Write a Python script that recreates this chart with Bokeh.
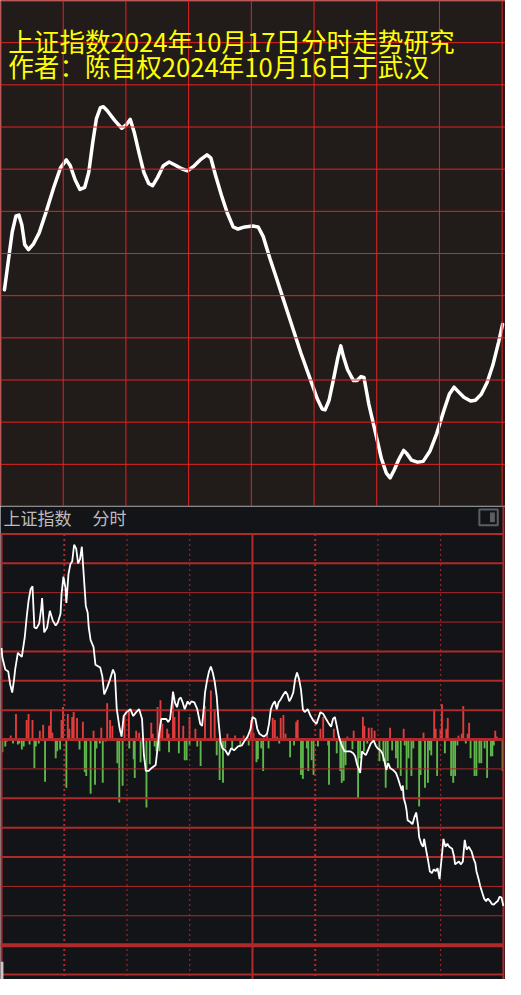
from bokeh.plotting import figure
from bokeh.models import Range1d, Span, Label, BoxAnnotation
from bokeh.layouts import column
from bokeh.embed import file_html
from bokeh.resources import INLINE

FONT = "Noto Sans CJK SC"

# ---------------- texts ----------------
title_lines = ["上证指数2024年10月17日分时走势研究", "作者：陈自权2024年10月16日于武汉"]
header_labels = ["上证指数", "分时"]

# ---------------- top panel: forecast curve (minutes after open, index level) ----------------
forecast_t = [1.9, 3.7, 5.6, 7.4, 8.8, 10.2, 11.6, 13.4, 15.8, 18.5,
              21.8, 25.5, 28.7, 31.5, 33.4, 35.7, 38.0, 40.3, 42.2, 44.1,
              45.9, 47.8, 49.2, 51.0, 54.7, 58.0, 60.3, 62.1, 64.0, 66.3,
              68.6, 70.9, 72.8, 75.1, 77.9, 80.7, 83.5, 86.7, 89.5, 92.7,
              96.0, 98.8, 100.6, 102.9, 105.7, 108.5, 111.3, 113.6, 116.9, 120.6,
              123.3, 125.7, 128.9, 132.2, 135.4, 139.1, 143.7, 148.4, 151.6, 153.9,
              155.3, 157.2, 159.5, 161.4, 162.8, 164.1, 166.0, 168.8, 170.6, 172.5,
              173.9, 176.2, 179.5, 182.2, 184.6, 186.4, 188.3, 190.6, 192.9, 194.3,
              196.6, 199.4, 202.2, 205.4, 208.7, 211.9, 214.7, 217.0, 218.9, 221.7,
              224.9, 227.2, 230.0, 232.8, 235.6, 238.3, 240.2]
forecast_v = [3201.4, 3208.1, 3215.1, 3218.9, 3219.1, 3216.8, 3212.1, 3210.9, 3212.3, 3214.9,
              3219.8, 3225.7, 3230.3, 3232.2, 3230.8, 3227.5, 3225.2, 3225.7, 3229.2, 3236.2,
              3242.0, 3244.6, 3244.8, 3243.9, 3241.5, 3239.7, 3240.6, 3241.8, 3238.7, 3233.8,
              3229.2, 3226.6, 3226.1, 3228.0, 3230.8, 3231.7, 3231.0, 3230.1, 3229.6, 3230.8,
              3232.4, 3233.4, 3232.7, 3228.5, 3223.8, 3219.6, 3216.3, 3215.8, 3216.3, 3216.5,
              3216.3, 3214.0, 3208.8, 3203.9, 3199.0, 3193.4, 3186.4, 3179.9, 3175.5, 3173.1,
              3172.9, 3175.2, 3180.6, 3185.3, 3188.1, 3185.5, 3182.5, 3179.9, 3179.9, 3180.8,
              3180.6, 3174.3, 3167.3, 3161.4, 3157.9, 3156.8, 3158.6, 3161.2, 3163.3, 3162.6,
              3161.0, 3160.5, 3160.7, 3163.1, 3167.3, 3172.4, 3176.6, 3178.3, 3177.3, 3175.9,
              3175.0, 3175.2, 3176.6, 3179.4, 3183.6, 3189.0, 3193.2]

# ---------------- bottom panel: actual intraday price ----------------
prev_close = 3203.0
actual_t = [0.0, 0.4, 1.8, 3.2, 4.1, 5.1, 6.0, 6.5, 7.8, 9.7,
            11.1, 12.0, 12.9, 13.9, 14.8, 15.7, 16.7, 18.0, 19.0, 19.4,
            20.4, 21.8, 23.1, 24.5, 25.9, 26.9, 28.2, 28.7, 29.6, 30.6,
            31.0, 32.0, 32.9, 33.8, 34.7, 35.7, 36.6, 37.5, 38.4, 39.4,
            40.3, 41.2, 41.7, 42.6, 44.0, 44.9, 47.2, 48.2, 49.1, 50.5,
            51.9, 53.3, 54.2, 55.1, 56.5, 57.4, 58.4, 59.8, 61.6, 63.0,
            64.4, 65.8, 67.2, 68.1, 69.0, 70.4, 71.8, 73.7, 74.6, 75.5,
            76.4, 78.8, 79.7, 80.6, 81.5, 82.0, 82.9, 83.9, 84.8, 85.7,
            86.6, 87.6, 89.0, 89.9, 90.8, 92.2, 93.6, 95.0, 95.9, 96.8,
            97.3, 98.2, 99.2, 100.1, 101.0, 101.9, 102.9, 103.8, 104.7, 105.6,
            107.0, 108.4, 109.8, 111.2, 113.1, 114.9, 116.3, 117.7, 119.1, 120.0,
            121.4, 122.3, 123.3, 124.6, 125.6, 127.0, 127.9, 128.8, 129.7, 130.7,
            131.6, 132.5, 133.5, 134.8, 135.8, 136.7, 137.6, 138.6, 139.5, 140.4,
            141.3, 142.3, 143.2, 144.1, 145.0, 146.4, 147.8, 149.2, 150.6, 152.5,
            153.9, 155.2, 156.6, 157.6, 158.5, 159.4, 160.3, 161.3, 162.7, 164.0,
            166.8, 168.2, 169.1, 170.1, 171.5, 172.4, 173.3, 174.2, 175.2, 176.6,
            178.0, 178.9, 179.8, 181.2, 182.1, 183.1, 184.0, 184.9, 185.8, 187.2,
            188.6, 189.5, 190.5, 191.4, 191.9, 192.3, 193.2, 193.7, 194.2, 195.6,
            196.5, 197.4, 198.3, 199.3, 199.7, 200.7, 201.6, 202.1, 203.0, 203.9,
            204.8, 205.8, 206.7, 207.6, 208.5, 209.5, 209.9, 210.4, 210.9, 211.3,
            212.3, 213.2, 214.1, 215.5, 216.4, 216.9, 218.7, 219.7, 220.6, 221.1,
            221.5, 222.4, 223.4, 224.8, 225.7, 226.6, 227.1, 228.0, 228.9, 229.9,
            230.8, 231.7, 232.6, 233.6, 234.5, 235.4, 236.4, 237.3, 238.2, 239.1, 240.0]
actual_p = [3221.7, 3219.7, 3217.3, 3216.9, 3214.3, 3212.6, 3215.3, 3217.3, 3220.7, 3219.9,
            3223.9, 3227.9, 3231.3, 3233.7, 3234.3, 3225.9, 3225.7, 3226.7, 3229.9, 3231.9,
            3224.9, 3225.9, 3229.3, 3227.3, 3226.3, 3226.9, 3228.7, 3232.7, 3236.3, 3233.9,
            3230.9, 3236.8, 3238.8, 3239.4, 3242.8, 3242.0, 3239.0, 3239.8, 3242.4, 3236.0,
            3230.3, 3228.9, 3225.9, 3223.3, 3221.9, 3218.3, 3217.7, 3215.9, 3212.2, 3213.6,
            3215.3, 3217.3, 3216.3, 3209.2, 3205.2, 3203.6, 3207.8, 3208.6, 3209.2, 3207.8,
            3208.6, 3209.2, 3207.2, 3199.8, 3196.6, 3196.6, 3197.2, 3197.8, 3201.2, 3204.6,
            3207.2, 3207.2, 3206.6, 3207.2, 3210.6, 3212.8, 3210.6, 3209.6, 3211.2, 3211.6,
            3210.6, 3209.2, 3210.8, 3210.2, 3210.8, 3210.6, 3209.2, 3206.2, 3205.8, 3209.8,
            3212.6, 3214.9, 3216.9, 3217.9, 3216.7, 3214.9, 3211.8, 3206.6, 3202.6, 3201.2,
            3200.8, 3199.8, 3201.2, 3200.8, 3201.6, 3201.8, 3202.8, 3203.6, 3205.2, 3207.6,
            3207.2, 3205.2, 3204.2, 3203.8, 3203.6, 3204.2, 3206.2, 3209.2, 3210.2, 3210.8,
            3209.2, 3210.6, 3211.2, 3212.2, 3212.8, 3212.2, 3210.8, 3211.6, 3212.6, 3215.3,
            3216.7, 3215.3, 3213.2, 3209.2, 3208.6, 3209.2, 3207.8, 3206.8, 3206.2, 3208.6,
            3208.2, 3207.2, 3206.2, 3205.6, 3207.2, 3207.6, 3205.8, 3203.6, 3201.8, 3200.6,
            3200.6, 3200.2, 3199.6, 3197.8, 3196.2, 3200.6, 3200.2, 3199.8, 3200.8, 3202.2,
            3202.8, 3201.8, 3201.2, 3200.8, 3200.2, 3198.6, 3196.8, 3198.2, 3197.2, 3196.8,
            3196.2, 3195.2, 3193.8, 3192.6, 3193.6, 3191.1, 3189.7, 3188.5, 3186.5, 3186.1,
            3185.7, 3187.1, 3188.1, 3185.1, 3183.1, 3181.7, 3181.1, 3182.7, 3180.5, 3178.5,
            3176.1, 3175.7, 3176.5, 3176.1, 3176.7, 3174.5, 3176.5, 3178.5, 3180.7, 3182.7,
            3181.1, 3181.7, 3181.1, 3180.7, 3179.1, 3177.5, 3178.1, 3177.5, 3178.1, 3180.5,
            3182.5, 3180.5, 3181.1, 3180.1, 3178.7, 3177.7, 3176.1, 3174.7, 3173.1, 3171.7,
            3170.5, 3170.0, 3170.5, 3170.0, 3169.4, 3169.3, 3169.7, 3170.0, 3170.9, 3170.7, 3169.0]

# red (buy) and green (sell) flow bars, arbitrary units
buy_t = [4.4, 6.9, 12.0, 12.9, 14.8, 18.3, 19.9, 22.7, 23.6, 24.3,
         28.7, 29.4, 31.7, 32.4, 33.8, 34.5, 36.1, 38.9, 44.0, 47.7,
         50.5, 51.9, 53.0, 58.8, 60.9, 64.4, 65.8, 71.6, 72.3, 74.6,
         76.0, 76.9, 79.2, 79.9, 82.0, 82.7, 84.8, 86.9, 89.9, 92.7,
         97.3, 100.1, 101.9, 108.0, 111.7, 115.8, 119.3, 120.5, 127.0, 129.7,
         130.7, 131.8, 133.5, 134.8, 135.8, 140.9, 141.6, 152.5, 153.8, 158.9,
         165.4, 168.4, 172.8, 173.5, 175.6, 177.0, 178.4, 185.8, 192.3, 201.8,
         206.9, 207.6, 209.9, 210.6, 212.7, 213.4, 218.5, 220.1, 220.8, 222.9,
         223.6, 236.1, 236.8]
buy_v = [4, 26, 20, 26, 20, 9, 15, 14, 31, 7,
         20, 33, 26, 11, 23, 28, 22, 18, 9, 12,
         37, 20, 14, 24, 30, 9, 7, 17, 6, 33,
         40, 16, 11, 6, 45, 23, 31, 14, 23, 11,
         34, 50, 31, 6, 4, 4, 20, 7, 6, 22,
         20, 3, 22, 25, 6, 18, 20, 11, 23, 11,
         3, 9, 23, 14, 12, 12, 9, 12, 11, 7,
         31, 11, 11, 36, 11, 22, 4, 6, 34, 6,
         17, 9, 3]
sell_t = [0.4, 1.8, 2.5, 5.5, 7.8, 8.5, 9.7, 10.6, 13.4, 15.7,
          16.4, 17.8, 20.8, 25.9, 26.6, 28.0, 31.0, 37.3, 39.8, 40.5,
          42.6, 44.7, 45.4, 47.0, 48.4, 49.8, 55.4, 56.3, 57.9, 61.1,
          63.2, 63.7, 66.5, 69.3, 70.9, 73.2, 74.1, 75.5, 80.1, 84.8,
          87.6, 88.5, 89.9, 93.6, 95.2, 102.9, 104.3, 105.9, 107.0, 110.3,
          114.2, 118.2, 121.9, 122.6, 124.2, 125.1, 127.7, 132.8, 138.0, 139.9,
          143.2, 144.1, 146.0, 146.7, 148.3, 149.2, 151.3, 156.2, 156.6, 160.3,
          162.0, 162.7, 163.6, 164.5, 167.8, 170.5, 171.5, 173.3, 174.9, 180.7,
          182.6, 183.7, 184.7, 186.8, 188.6, 189.5, 190.9, 192.8, 193.7, 194.6,
          196.0, 196.9, 199.7, 200.4, 202.5, 203.9, 204.8, 205.5, 208.3, 212.0,
          215.0, 216.0, 216.9, 218.0, 222.0, 224.3, 226.2, 227.1, 228.5, 229.4,
          231.0, 232.2, 234.0, 234.7, 235.4, 239.6]
sell_v = [-13, -7, -2, -4, -5, -4, -10, -7, -5, -29,
          -7, -4, -43, -19, -12, -10, -49, -10, -33, -37,
          -55, -46, -9, -4, -44, -2, -24, -64, -47, -9,
          -20, -39, -23, -69, -25, -7, -12, -12, -13, -14,
          -21, -21, -6, -7, -27, -16, -41, -44, -9, -9,
          -7, -6, -23, -20, -9, -32, -9, -4, -18, -6,
          -36, -40, -9, -32, -21, -36, -7, -6, -46, -14,
          -32, -44, -42, -26, -10, -60, -19, -12, -4, -22,
          -22, -49, -22, -11, -19, -29, -37, -6, -51, -19,
          -37, -9, -68, -36, -49, -44, -11, -16, -37, -14,
          -37, -44, -37, -6, -4, -19, -37, -37, -24, -24,
          -9, -39, -17, -17, -6, -32]

# grid definitions
top_levels = list(range(3150, 3271, 10))
top_times = list(range(0, 241, 30))
bot_steps = list(range(-8, 8))          # grid lines at prev_close + 6*k
bot_step_size = 6.0
bot_line_w = {7: 2, 6: 2, 5: 1, 4: 1, 3: 2, 2: 2, 1: 2, 0: 3,
              -1: 1, -2: 2, -3: 2, -4: 2, -5: 1, -6: 1, -7: 4, -8: 2}
dotted_wide = [30, 150]
dotted_thin = [60, 90, 180, 210]
solid_times = [0, 120]

# ---------------- styles ----------------
W = 505
H_TOP = 506
H_BOT = 473
TOP_BG = "#211c1a"
TOP_RED = "#e52222"
BOT_BG = "#131417"
BOT_RED = "#b0292b"

# ================= top figure =================
top = figure(width=W, height=H_TOP, x_range=Range1d(0, 241.6), y_range=Range1d(3150, 3270),
             x_axis_type=None, y_axis_type=None, output_backend="svg",
             toolbar_location=None, min_border=0,
             background_fill_color=TOP_BG, border_fill_color=TOP_BG,
             outline_line_color=None)

for lv in top_levels:
    top.add_layout(Span(location=lv, dimension="width", line_color=TOP_RED,
                        line_width=2 if lv in (3150, 3270) else 1))
for tm in top_times:
    top.add_layout(Span(location=tm, dimension="height", line_color=TOP_RED,
                        line_width=2 if tm == 0 else 1))

top.line(forecast_t, forecast_v, line_color="white", line_width=3.5,
         line_join="round", line_cap="round")

top.add_layout(Label(x=3.7, y=3260.4, text=title_lines[0], text_font=FONT,
                     text_font_size="25.6px", text_color="#ffff00", text_baseline="middle"))
top.add_layout(Label(x=3.7, y=3254.6, text=title_lines[1], text_font=FONT,
                     text_font_size="25.6px", text_color="#ffff00", text_baseline="middle"))

# ================= bottom figure =================
bot = figure(width=W, height=H_BOT, x_range=Range1d(-0.5, 241), y_range=Range1d(3153.98, 3250.61),
             x_axis_type=None, y_axis_type=None, output_backend="svg",
             toolbar_location=None, min_border=0,
             background_fill_color=BOT_BG, border_fill_color=BOT_BG,
             outline_line_color=None)
bot.extra_y_ranges = {"flow": Range1d(-244, 237)}

bot.vbar(x=buy_t, top=buy_v, bottom=0, width=0.9, y_range_name="flow",
         fill_color="#e23c3c", line_color=None)
bot.vbar(x=sell_t, top=0, bottom=sell_v, width=0.9, y_range_name="flow",
         fill_color="#5fb64a", line_color=None)

grid_top = prev_close + 7 * bot_step_size
y_bottom = 3153.98
y_top = 3250.61

# horizontal grid
hy = [prev_close + k * bot_step_size for k in bot_steps]
bot.segment(x0=[-0.5] * len(hy), y0=hy, x1=[240] * len(hy), y1=hy,
            line_color=BOT_RED, line_width=[bot_line_w[k] for k in bot_steps])

# vertical lines
bot.segment(x0=solid_times, y0=[grid_top] * len(solid_times), x1=solid_times,
            y1=[y_bottom] * len(solid_times), line_color=BOT_RED, line_width=2)
bot.segment(x0=[240], y0=[y_top], x1=[240], y1=[y_bottom], line_color=BOT_RED, line_width=2)
bot.segment(x0=dotted_wide, y0=[grid_top] * len(dotted_wide), x1=dotted_wide,
            y1=[y_bottom] * len(dotted_wide), line_color=BOT_RED, line_width=2, line_dash="2 3")
bot.segment(x0=dotted_thin, y0=[grid_top] * len(dotted_thin), x1=dotted_thin,
            y1=[y_bottom] * len(dotted_thin), line_color=BOT_RED, line_width=1, line_dash="2 3")

bot.line(actual_t, actual_p, line_color="white", line_width=1.8)

bot.add_layout(Label(x=0.9, y=3248.4, text=header_labels[0], text_font=FONT,
                     text_font_size="17px", text_color="#bdbdbd", text_baseline="middle"))
bot.add_layout(Label(x=43.5, y=3248.4, text=header_labels[1], text_font=FONT,
                     text_font_size="17px", text_color="#bdbdbd", text_baseline="middle"))

bot.add_layout(BoxAnnotation(left=228.5, right=237.3, top=3250.0, bottom=3246.8,
                             fill_color=None, line_color="#5b5f64", line_alpha=1.0, line_width=2))
bot.add_layout(BoxAnnotation(left=233.6, right=235.9, top=3249.4, bottom=3247.4,
                             fill_color="#5b5f64", fill_alpha=1.0, line_color=None))
bot.add_layout(BoxAnnotation(left=-0.5, right=0.9, top=3157.6, bottom=y_bottom,
                             fill_color="#c8c8c8", fill_alpha=1.0, line_color=None))

layout = column(top, bot)
open("out.html", "w", encoding="utf-8").write(file_html(layout, INLINE))
